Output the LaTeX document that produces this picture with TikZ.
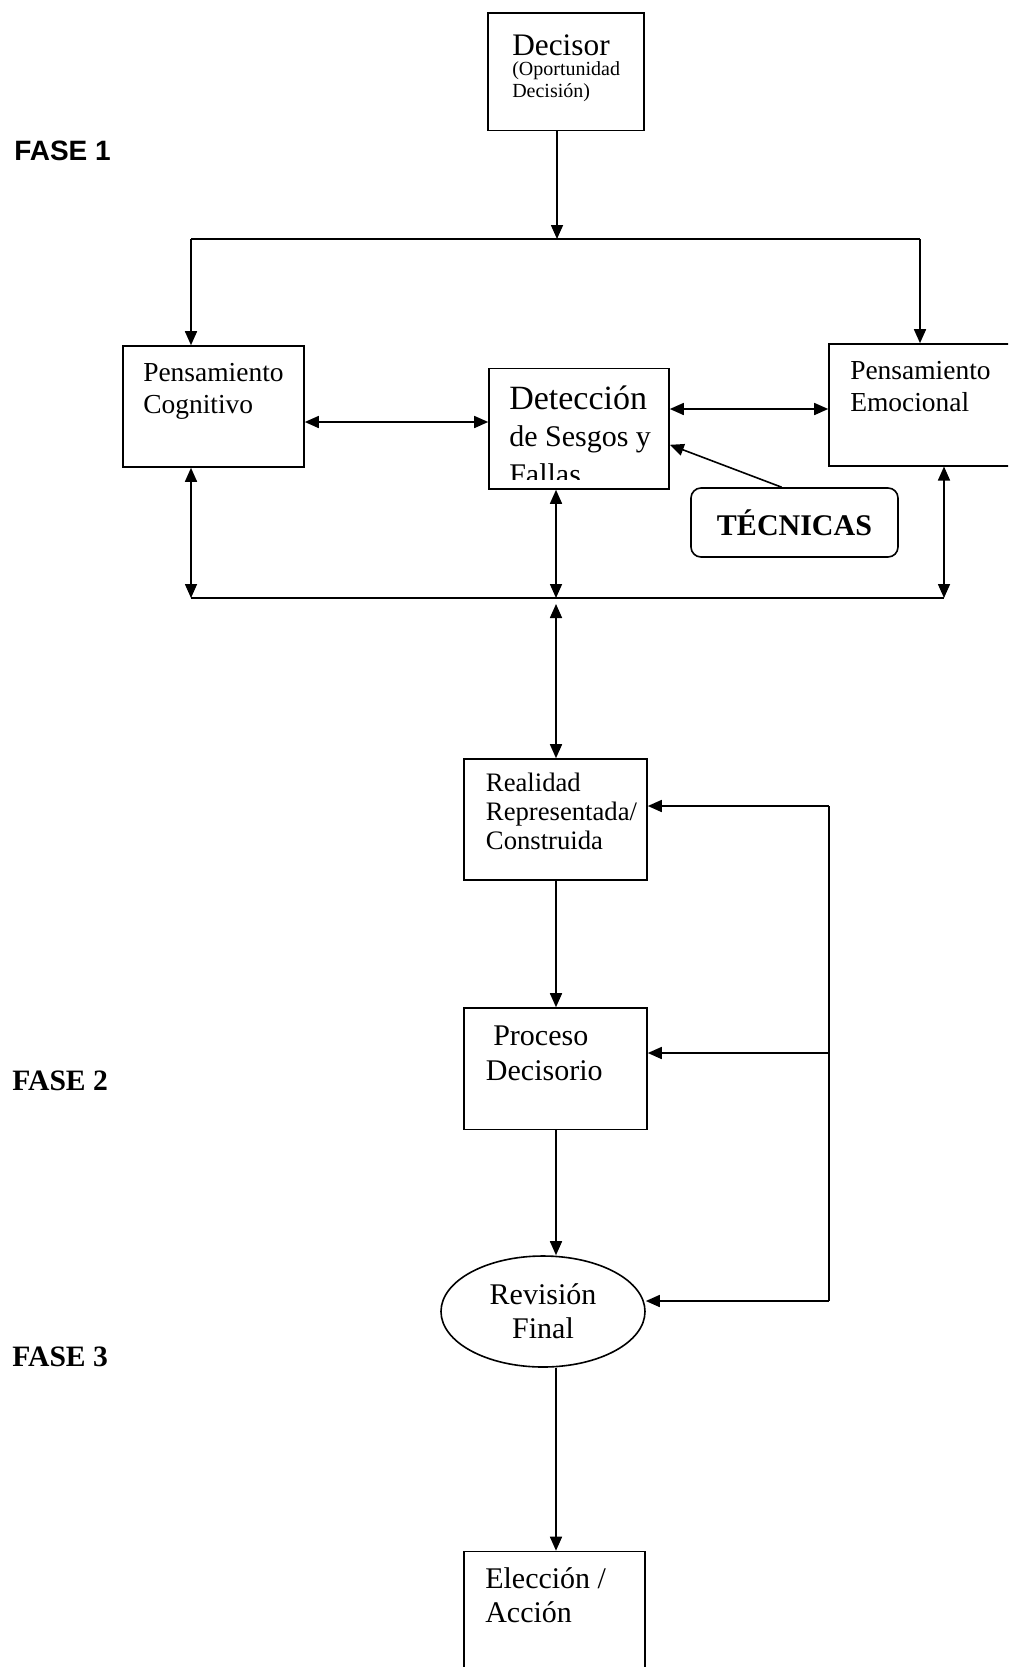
\documentclass[tikz,border=0pt]{standalone}
\usepackage{fontspec}
\setmainfont{Liberation Serif}
\newfontfamily\arialfont{Liberation Sans}
\usetikzlibrary{arrows.meta,shapes.geometric}

\newcommand{\setfs}[2]{\fontsize{#1}{#2}\selectfont}

\tikzset{
  box/.style={draw, line width=1.2pt, inner sep=0pt},
  txt/.style={inner sep=0pt, anchor=base west, align=left},
  conn/.style={line width=1.2pt},
  arrowto/.style={conn, -{Triangle[length=10.5pt,width=9pt]}},
  arrowboth/.style={conn, {Triangle[length=10.5pt,width=9pt]}-{Triangle[length=10.5pt,width=9pt]}},
}

\begin{document}
\begin{tikzpicture}[x=0.75pt,y=0.75pt,yscale=-1,xscale=1]
\useasboundingbox (0,0) rectangle (1008,1667);
\clip (0,0) rectangle (1008,1667);

%Shape: Rectangle [Decisor]
\node[box, minimum width=117pt, minimum height=88.1pt] (dec) at (566,71.75) {};
%Shape: Rectangle [Pensamiento Cognitivo]
\node[box, minimum width=135.75pt, minimum height=90.75pt] (cog) at (213.5,406.5) {};
%Shape: Rectangle [Deteccion]
\node[box, minimum width=135pt, minimum height=90.3pt] (det) at (579,428.8) {};
%Shape: Rectangle [Pensamiento Emocional]
\node[box, minimum width=143.25pt, minimum height=91.3pt] (emo) at (924.5,404.85) {};
%Shape: Rounded Rectangle [Tecnicas]
\node[box, rounded corners=7.5pt, minimum width=155.25pt, minimum height=51.75pt, font={\setfs{22.5}{26}\bfseries}] (tec) at (794.5,522.5) {TÉCNICAS};
%Shape: Rectangle [Realidad]
\node[box, minimum width=137.25pt, minimum height=90.75pt] (rea) at (555.5,819.5) {};
%Shape: Rectangle [Proceso]
\node[box, minimum width=137.25pt, minimum height=91.2pt] (pro) at (555.5,1068.8) {};
%Shape: Ellipse [Revision]
\node[box, ellipse, minimum width=153pt, minimum height=83.25pt, align=center, font={\setfs{22.5}{25.5}}] (rev) at (543,1311.5) {Revisión\\Final};
%Shape: Rectangle [Eleccion]
\node[box, minimum width=135.75pt, minimum height=90.75pt] (ele) at (554.5,1612) {};

% Text Node
\node[txt, font={\setfs{23.5}{26}}] (dectxt) at (512,55) {Decisor};
% Text Node
\node[txt, font={\setfs{15}{15.8}}] (decsub) at (512,97) {(Oportunidad\\Decisión)};
% Text Node
\node[txt, font={\setfs{20.6}{23.6}}] (cogtxt) at (143,413) {Pensamiento\\Cognitivo};
% Text Node
\node[txt, font={\setfs{20.6}{23.8}}] (emotxt) at (850,411.7) {Pensamiento\\Emocional};
% Text Node
\coordinate (detcut) at (0,479);
\begin{scope}
\clip (det.north west) rectangle (det.east |- detcut);
\node[txt, font={\setfs{22.5}{28}}] (dettxt) at (509,484) {{\setfs{25.5}{27}Detección}\\de Sesgos y\\Fallas};
\end{scope}
% Text Node
\node[txt, font={\setfs{20}{21.9}}] (reatxt) at (485.7,849.8) {Realidad\\Representada/\\Construida};
% Text Node
\node[txt, font={\setfs{22.5}{26}}] (protxt) at (485.7,1080.6) {\hspace*{5.5pt}Proceso\\Decisorio};
% Text Node
\node[txt, font={\setfs{22.5}{25.3}}] (eletxt) at (485,1622.7) {Elección /\\Acción};
% Text Node
\node[txt, font={\setfs{21}{24}\arialfont\bfseries}] (fase1) at (14,160) {FASE 1};
% Text Node
\node[txt, font={\setfs{22.2}{25}\bfseries}] (fase2) at (12,1090) {FASE 2};
% Text Node
\node[txt, font={\setfs{22.2}{25}\bfseries}] (fase3) at (12,1366.8) {FASE 3};

% junction points
\coordinate (tm) at (557,239);
\coordinate (tl) at (191,239);
\coordinate (tr) at (920,239);
\coordinate (rowce) at (0,422);
\coordinate (rowde) at (0,409);
\coordinate (bl) at (191,598);
\coordinate (bm) at (556,598);
\coordinate (br) at (944,598);
\coordinate (bmu) at (556,604);
\coordinate (fbt) at (829,806);
\coordinate (fbm) at (829,1053);
\coordinate (fbb) at (829,1301);

%Straight Lines [Fase 1]
\draw[arrowto] (dec.south -| tm) -- (tm);
\draw[conn] (tl) -- (tr);
\draw[arrowto] (tl) -- (cog.north -| tl);
\draw[arrowto] (tr) -- (emo.north -| tr);
\draw[arrowboth] (cog.east |- rowce) -- (det.west |- rowce);
\draw[arrowboth] (det.east |- rowde) -- (emo.west |- rowde);
\draw[arrowto] (tec.110) -- (det.350);
\draw[conn] (bl) -- (br);
\draw[arrowboth] (cog.south -| bl) -- (bl);
\draw[arrowboth] (det.south -| bm) -- (bm);
\draw[arrowboth] (emo.south -| br) -- (br);

%Straight Lines [Fase 2 y 3]
\draw[arrowboth] (bmu) -- (rea.north -| bmu);
\draw[arrowto] (rea.south -| bm) -- (pro.north -| bm);
\draw[arrowto] (pro.south -| bm) -- (rev.north -| bm);
\draw[arrowto] (rev.south -| bm) -- (ele.north -| bm);
\draw[conn] (fbt) -- (fbb);
\draw[arrowto] (fbt) -- (rea.east |- fbt);
\draw[arrowto] (fbm) -- (pro.east |- fbm);
\draw[arrowto] (fbb) -- (rev.east |- fbb);
\end{tikzpicture}
\end{document}
